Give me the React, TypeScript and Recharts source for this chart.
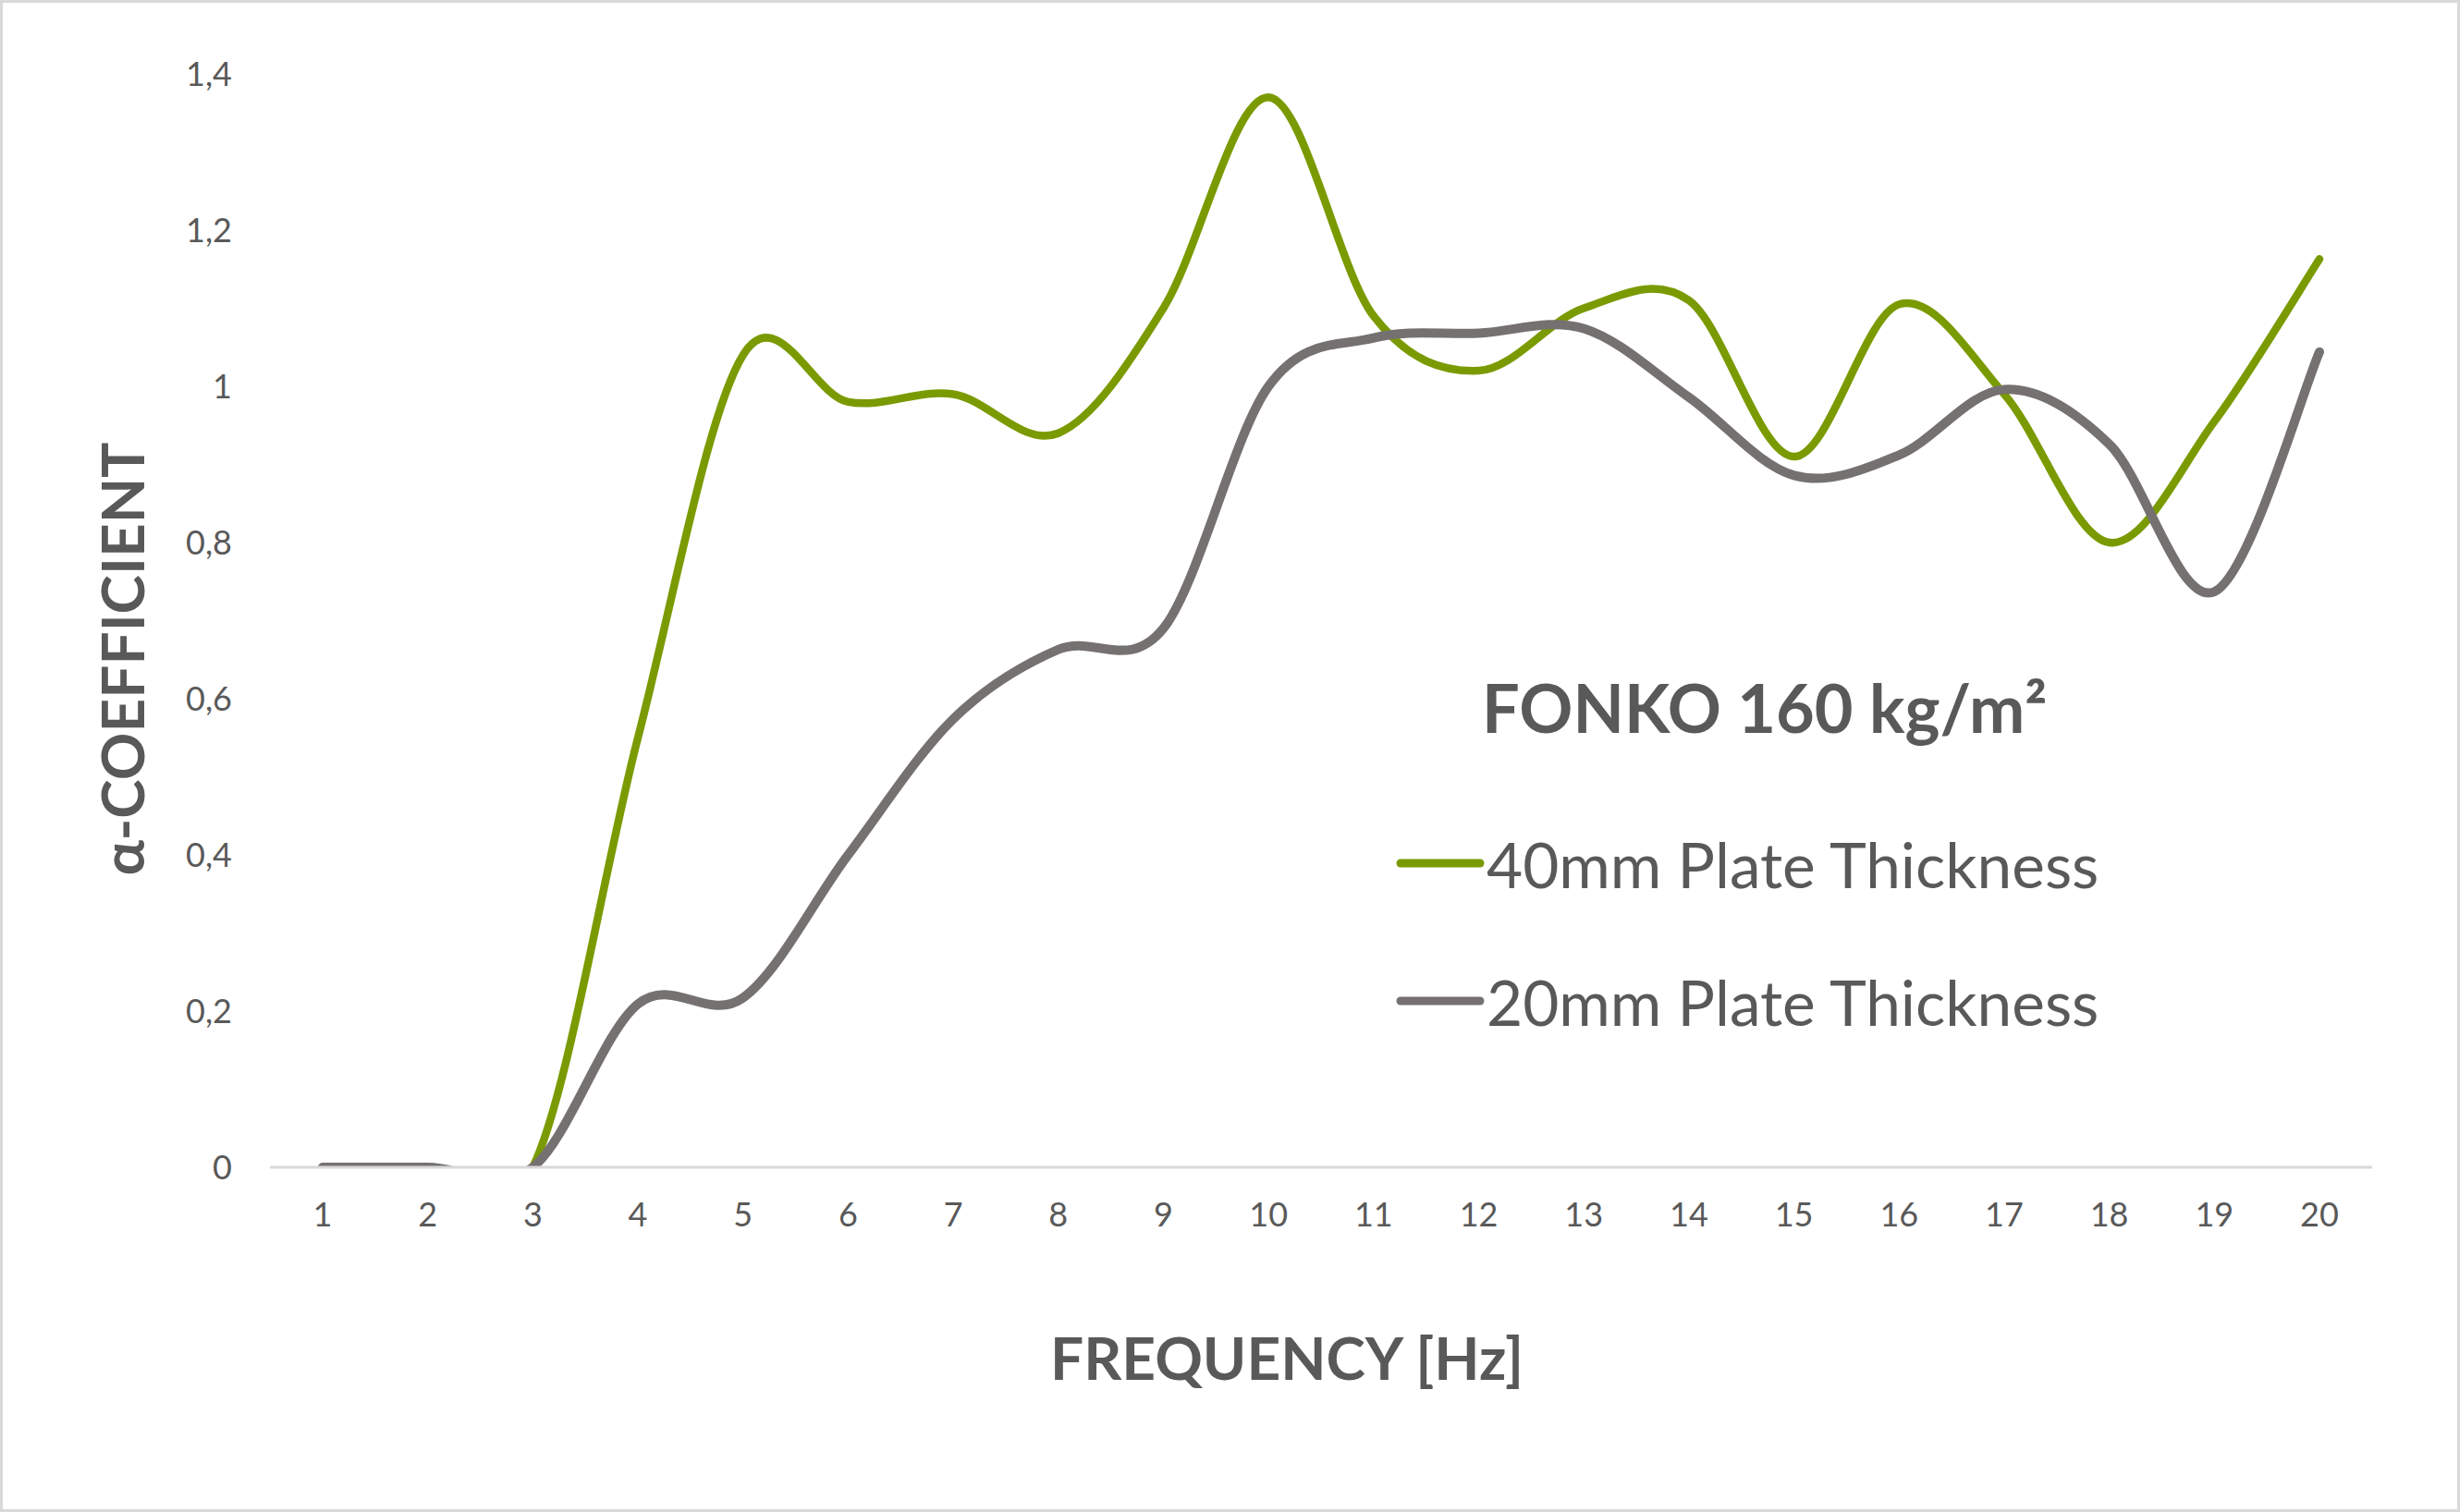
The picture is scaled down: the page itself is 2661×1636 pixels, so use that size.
import React from "react";
import { LineChart, Line, XAxis, YAxis } from "recharts";

const frequencies = ["1", "2", "3", "4", "5", "6", "7", "8", "9", "10", "11", "12", "13", "14", "15", "16", "17", "18", "19", "20"];
const plate40 = [0, 0, 0, 0.55, 1.04, 0.98, 0.99, 0.94, 1.1, 1.37, 1.09, 1.02, 1.1, 1.11, 0.91, 1.105, 0.99, 0.8, 0.955, 1.163];
const plate20 = [0, 0, 0, 0.209, 0.217, 0.4, 0.574, 0.663, 0.69, 1.0, 1.062, 1.068, 1.074, 0.986, 0.886, 0.912, 0.996, 0.926, 0.737, 1.044];
const yTicks = [0, 0.2, 0.4, 0.6, 0.8, 1, 1.2, 1.4];
const legendTitle = "FONKO 160 kg/m²";
const seriesNames = ["40mm Plate Thickness", "20mm Plate Thickness"];

const data = frequencies.map((f, i) => ({ f, plate40: plate40[i], plate20: plate20[i] }));

const GREEN = "#7a9a01";
const GRAY = "#767171";
const TEXT = "#595959";
const FONT = "Lato, 'Open Sans', sans-serif";

// Excel-style smoothed line (Catmull-Rom, control points at 1/6)
function excelSmooth(context: any) {
  let pts: number[][] = [];
  return {
    areaStart() {},
    areaEnd() {},
    lineStart() {
      pts = [];
    },
    point(x: number, y: number) {
      pts.push([+x, +y]);
    },
    lineEnd() {
      const n = pts.length;
      if (!n) return;
      context.moveTo(pts[0][0], pts[0][1]);
      for (let i = 0; i < n - 1; i++) {
        const p0 = pts[i - 1] || pts[i];
        const p1 = pts[i];
        const p2 = pts[i + 1];
        const p3 = pts[i + 2] || p2;
        context.bezierCurveTo(
          p1[0] + (p2[0] - p0[0]) / 6,
          p1[1] + (p2[1] - p0[1]) / 6,
          p2[0] - (p3[0] - p1[0]) / 6,
          p2[1] - (p3[1] - p1[1]) / 6,
          p2[0],
          p2[1]
        );
      }
    },
  };
}

const fmt = (v: number) => String(v).replace(".", ",");

const LegendBox = () => (
  <div style={{ position: "absolute", left: 1507, top: 712, width: 900, height: 420, fontFamily: FONT, color: TEXT }}>
    <div style={{ position: "absolute", left: 93, top: 0, fontSize: 72, fontWeight: 700, lineHeight: "100px", whiteSpace: "nowrap" }}>
      {legendTitle}
    </div>
    {[
      { label: seriesNames[0], color: GREEN, top: 219 },
      { label: seriesNames[1], color: GRAY, top: 368 },
    ].map((it) => (
      <div key={it.label} style={{ position: "absolute", left: 0, top: it.top - 50, height: 100, display: "flex", alignItems: "center", whiteSpace: "nowrap" }}>
        <svg width={96} height={20} style={{ display: "block" }}>
          <line x1={5} y1={10} x2={91} y2={10} stroke={it.color} strokeWidth={9} strokeLinecap="round" />
        </svg>
        <span style={{ fontSize: 67.5, marginLeft: 2 }}>{it.label}</span>
      </div>
    ))}
  </div>
);

export default function App() {
  return (
    <div
      style={{
        position: "fixed",
        left: 0,
        top: 0,
        width: 2661,
        height: 1636,
        background: "#fff",
        border: "3px solid #d9d9d9",
        boxSizing: "border-box",
      }}
    >
      <div style={{ position: "absolute", left: -3, top: -3 }}>
        <LineChart width={2661} height={1636} data={data} margin={{ top: 80, right: 95, bottom: 293, left: 192 }}>
          <XAxis
            dataKey="f"
            axisLine={{ stroke: "#d9d9d9", strokeWidth: 3 }}
            tickLine={false}
            tickSize={0}
            tickMargin={38}
            height={80}
            padding={{ left: 57, right: 57 }}
            tick={{ fill: TEXT, fontSize: 36, fontFamily: FONT }}
          />
          <YAxis
            type="number"
            domain={[0, 1.4]}
            ticks={yTicks}
            allowDataOverflow
            axisLine={false}
            tickLine={false}
            tickSize={0}
            tickMargin={41}
            width={100}
            tickFormatter={fmt}
            tick={{ fill: TEXT, fontSize: 36, fontFamily: FONT }}
          />
          <Line dataKey="plate40" name={seriesNames[0]} type={excelSmooth as any} stroke={GREEN} strokeWidth={8.5} dot={false} strokeLinecap="round" isAnimationActive={false} />
          <Line dataKey="plate20" name={seriesNames[1]} type={excelSmooth as any} stroke={GRAY} strokeWidth={10} dot={false} strokeLinecap="round" isAnimationActive={false} />
        </LineChart>
      </div>
      <LegendBox />
      <div
        style={{
          position: "absolute",
          left: 128,
          top: 710,
          transform: "translate(-50%, -50%) rotate(-90deg)",
          fontFamily: FONT,
          fontWeight: 700,
          fontSize: 64,
          color: TEXT,
          whiteSpace: "nowrap",
        }}
      >
        α-COEFFICIENT
      </div>
      <div
        style={{
          position: "absolute",
          left: 1389,
          top: 1465,
          transform: "translate(-50%, -50%)",
          fontFamily: FONT,
          fontWeight: 700,
          fontSize: 64,
          color: TEXT,
          whiteSpace: "nowrap",
        }}
      >
        FREQUENCY [Hz]
      </div>
    </div>
  );
}
